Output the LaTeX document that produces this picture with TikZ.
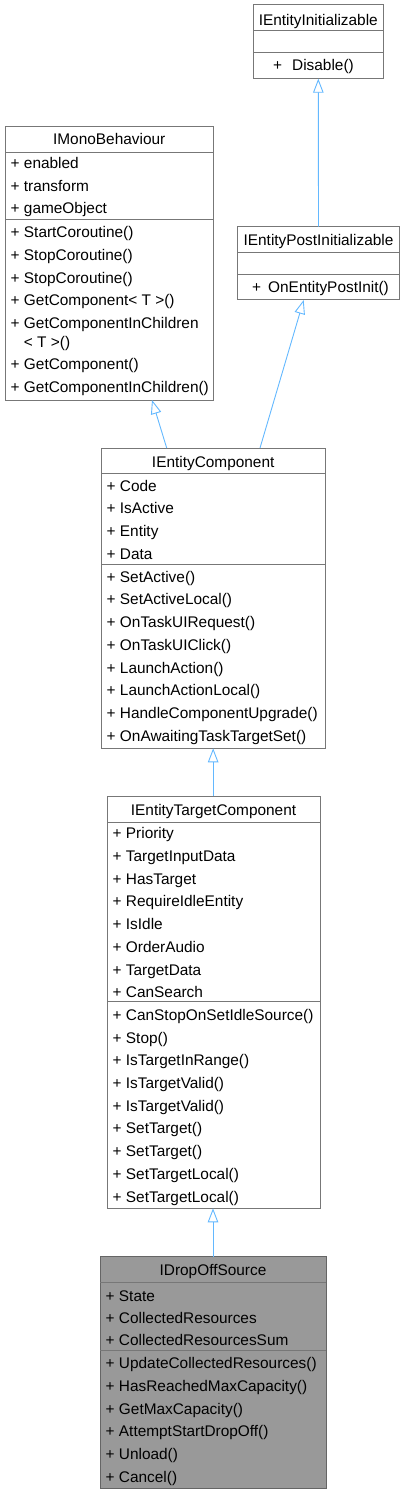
\documentclass[tikz,border=0pt]{standalone}
\usepackage{fontspec}
\setmainfont{Liberation Sans}
\usetikzlibrary{arrows.meta,calc}
\definecolor{edgeblue}{HTML}{63B8FF}
\definecolor{boxline}{HTML}{777777}
\definecolor{curfill}{HTML}{999999}
\tikzset{
  box/.style={draw=boxline, line width=1pt, fill=white, anchor=north west, inner sep=0pt, outer sep=0pt},
  curbox/.style={box, draw=boxline!85!black, fill=curfill},
  sep/.style={draw=boxline, line width=1pt},
  row/.style={anchor=west, inner sep=0pt, text height=11pt, text depth=0pt, font=\fontsize{15.4}{18}\selectfont},
  ttl/.style={anchor=center, inner sep=0pt, text height=11pt, text depth=0pt, font=\fontsize{15.4}{18}\selectfont},
  inh/.style={draw=edgeblue, line width=0.9pt, -{Triangle[open, length=14pt, width=10.5pt, fill=white]}},
}
\newcommand\rowlist[5]{% prefix, x, first y, pitch, list
  \foreach \txt [count=\k] in {#5} {
    \node[row] (#1\k) at (#2, {#3+#4*(\k-1)}) {\txt};
  }%
}
\begin{document}
\begin{tikzpicture}[x=1pt,y=-1pt]
\useasboundingbox (0,0) rectangle (405,1495);

% ---------- IEntityInitializable ----------
\node[box, minimum width=130pt, minimum height=73.7pt] (init) at (253.3,5) {};
\draw[sep] (253.3,31) -- (383.3,31);
\draw[sep] (253.3,52.7) -- (383.3,52.7);
\node[ttl] (initT) at (318.3,20) {IEntityInitializable};
\node[row] (init1) at (273,65.5) {+\hspace{10pt}Disable()};

% ---------- IEntityPostInitializable ----------
\node[box, minimum width=161.6pt, minimum height=73.3pt] (post) at (237.7,226.7) {};
\draw[sep] (237.7,252.3) -- (399.3,252.3);
\draw[sep] (237.7,275) -- (399.3,275);
\node[ttl] (postT) at (318.5,240.5) {IEntityPostInitializable};
\node[row] (post1) at (252,287.5) {+\hspace{7pt}OnEntityPostInit()};

% ---------- IMonoBehaviour ----------
\node[box, minimum width=208.3pt, minimum height=273.3pt] (mono) at (5,126.7) {};
\draw[sep] (5,152.3) -- (213.3,152.3);
\draw[sep] (5,220) -- (213.3,220);
\node[ttl] (monoT) at (109.2,139.5) {IMonoBehaviour};
\rowlist{monoA}{10.5}{163}{22.7}{+ enabled,+ transform,+ gameObject}
\rowlist{monoM}{10.5}{232.3}{22.7}{+ StartCoroutine(),+ StopCoroutine(),+ StopCoroutine(),+ GetComponent< T >(),+ GetComponentInChildren}
\node[row] (monoM6) at (10.5,341.5) {\phantom{+ }< T >()};
\node[row] (monoM7) at (10.5,364.3) {+ GetComponent()};
\node[row] (monoM8) at (10.5,387) {+ GetComponentInChildren()};

% ---------- IEntityComponent ----------
\node[box, minimum width=224.3pt, minimum height=300.3pt] (comp) at (101,448) {};
\draw[sep] (101,473.3) -- (325.3,473.3);
\draw[sep] (101,564) -- (325.3,564);
\node[ttl] (compT) at (213.2,461.5) {IEntityComponent};
\rowlist{compA}{106.5}{485.7}{22.7}{+ Code,+ IsActive,+ Entity,+ Data}
\rowlist{compM}{106.5}{576.7}{22.75}{+ SetActive(),+ SetActiveLocal(),+ OnTaskUIRequest(),+ OnTaskUIClick(),+ LaunchAction(),+ LaunchActionLocal(),+ HandleComponentUpgrade(),+ OnAwaitingTaskTargetSet()}

% ---------- IEntityTargetComponent ----------
\node[box, minimum width=213pt, minimum height=412.3pt] (target) at (107,796) {};
\draw[sep] (107,822) -- (320,822);
\draw[sep] (107,1001.7) -- (320,1001.7);
\node[ttl] (targetT) at (213.5,810) {IEntityTargetComponent};
\rowlist{targetA}{112.5}{833.3}{22.7}{+ Priority,+ TargetInputData,+ HasTarget,+ RequireIdleEntity,+ IsIdle,+ OrderAudio,+ TargetData,+ CanSearch}
\rowlist{targetM}{112.5}{1014.9}{22.7}{+ CanStopOnSetIdleSource(),+ Stop(),+ IsTargetInRange(),+ IsTargetValid(),+ IsTargetValid(),+ SetTarget(),+ SetTarget(),+ SetTargetLocal(),+ SetTargetLocal()}

% ---------- IDropOffSource ----------
\node[curbox, minimum width=226pt, minimum height=231.6pt] (drop) at (100,1256.7) {};
\draw[sep] (100,1282.3) -- (326,1282.3);
\draw[sep] (100,1350.7) -- (326,1350.7);
\node[ttl] (dropT) at (213,1270) {IDropOffSource};
\rowlist{dropA}{105.5}{1295.7}{22.2}{+ State,+ CollectedResources,+ CollectedResourcesSum}
\rowlist{dropM}{105.5}{1363.3}{22.7}{+ UpdateCollectedResources(),+ HasReachedMaxCapacity(),+ GetMaxCapacity(),+ AttemptStartDropOff(),+ Unload(),+ Cancel()}

% ---------- inheritance edges ----------
\draw[inh] (post.north) -- (init.south);
\draw[inh] ($(comp.north west)+(65.7,0)$) -- ($(mono.south west)+(147,0)$);
\draw[inh] ($(comp.north west)+(159,0)$) -- ($(post.south west)+(66,0)$);
\draw[inh] (target.north -| comp.south) -- (comp.south);
\draw[inh] (drop.north) -- (target.south -| drop.north);
\end{tikzpicture}
\end{document}
